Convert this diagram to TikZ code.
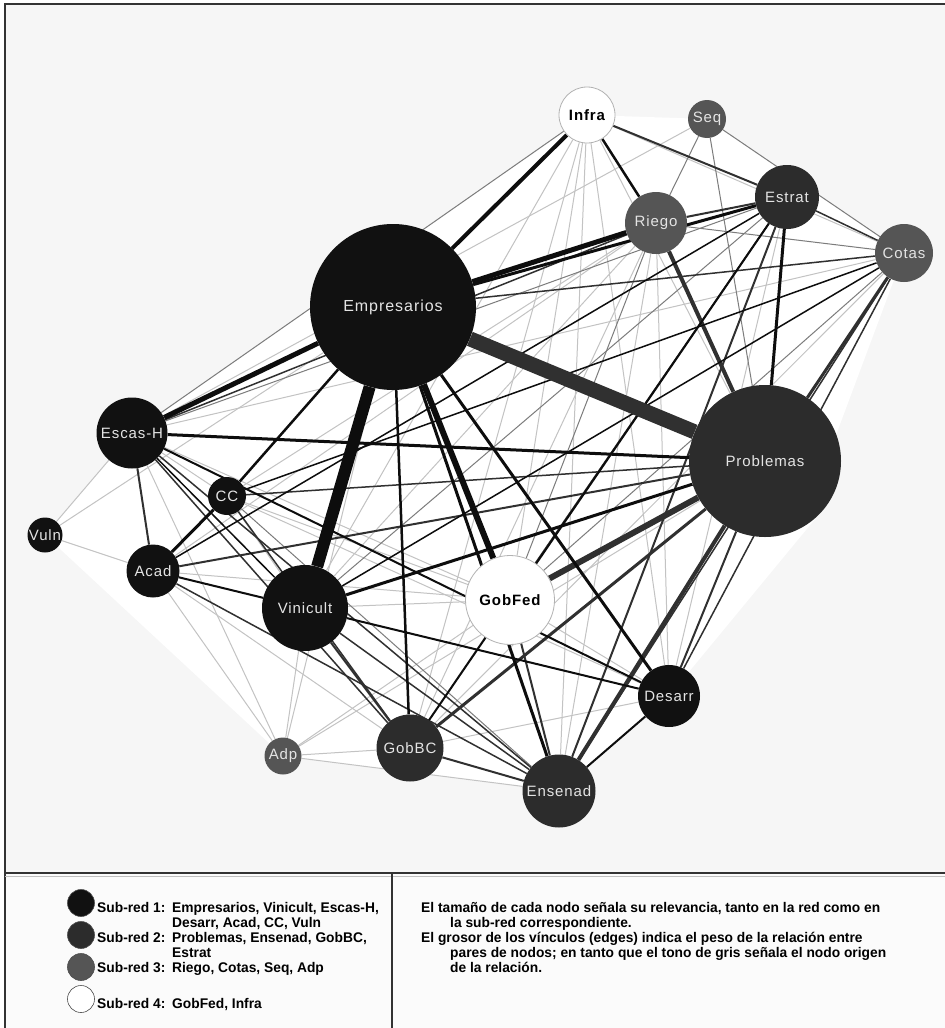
\documentclass[tikz,border=0pt]{standalone}
\usepackage{fontspec}
\setmainfont{Liberation Sans}
\newfontfamily\labfont[LetterSpace=6]{Liberation Sans}
\newfontfamily\legfont[FakeStretch=0.985]{Liberation Sans}
\definecolor{g1}{HTML}{111111}
\definecolor{g2}{HTML}{2C2C2C}
\definecolor{g3}{HTML}{555555}
\definecolor{labw}{HTML}{E4E4E4}
\definecolor{ek1}{HTML}{0D0D0D}
\definecolor{ek2}{HTML}{303030}
\definecolor{ek3}{HTML}{7C7C7C}
\definecolor{ek4}{HTML}{C3C3C3}
\definecolor{bgnet}{HTML}{F6F6F6}
\definecolor{bgleg}{HTML}{FBFBFB}
\definecolor{frame}{HTML}{333333}
\pgfdeclarelayer{bgl}
\pgfdeclarelayer{edl}
\pgfsetlayers{bgl,edl,main}
\tikzset{
  nd/.style={circle,inner sep=0pt,text=labw,font=\labfont\fontsize{15}{15}\selectfont},
  sA/.style={nd,fill=g1},
  sB/.style={nd,fill=g2},
  sC/.style={nd,fill=g3},
  sD/.style={nd,fill=white,draw=black!30,line width=0.8pt,text=black,font=\labfont\bfseries\fontsize{15}{15}\selectfont},
  legtxt/.style={anchor=base west,inner sep=0pt,font=\legfont\bfseries\fontsize{14}{14}\selectfont},
  legdot/.style={circle,inner sep=0pt,minimum size=27pt,draw=black!70,line width=0.6pt}
}
\begin{document}
\begin{tikzpicture}[x=1pt,y=-1pt]
\useasboundingbox (0,0) rectangle (945,1028);
% nodes
\node[sA,minimum size=166pt,font=\labfont\fontsize{16}{16}\selectfont] (E) at (393,307) {Empresarios};
\node[sB,minimum size=152pt] (P) at (765,461) {Problemas};
\node[sD,minimum size=56pt] (Infra) at (587,115) {Infra};
\node[sC,minimum size=38pt] (Seq) at (707,119) {Seq};
\node[sC,minimum size=62pt] (Riego) at (656,223) {Riego};
\node[sB,minimum size=64pt] (Estrat) at (787,197) {Estrat};
\node[sC,minimum size=58pt] (Cotas) at (904,253) {Cotas};
\node[sA,minimum size=71pt] (EscasH) at (132,433) {Escas-H};
\node[sA,minimum size=38pt] (CC) at (227,496) {CC};
\node[sA,minimum size=35pt] (Vuln) at (45,535) {Vuln};
\node[sA,minimum size=53pt] (Acad) at (153,571) {Acad};
\node[sA,minimum size=86pt] (Vini) at (305,608) {Vinicult};
\node[sD,minimum size=89pt] (GobFed) at (510,600) {GobFed};
\node[sA,minimum size=62pt] (Desarr) at (669,696) {Desarr};
\node[sB,minimum size=67pt] (GobBC) at (410,748) {GobBC};
\node[sC,minimum size=37pt] (Adp) at (283,756) {Adp};
\node[sB,minimum size=73pt] (Ensenad) at (559,791) {Ensenad};
% backgrounds
\begin{pgfonlayer}{bgl}
\fill[bgnet] (5,4) rectangle (945,873);
\fill[bgleg] (5,873) rectangle (945,1028);
\fill[white] (Vuln.center) -- (EscasH.center) -- (Infra.center) -- (Seq.center) -- (Cotas.center)
  -- (836,435) -- (820,513) -- (Desarr.center) -- (Ensenad.center) -- (Adp.center) -- cycle;
\end{pgfonlayer}
% edges
\begin{pgfonlayer}{edl}
\foreach \a/\b/\w in {EscasH/Seq/1, EscasH/Cotas/1, EscasH/Vuln/1, EscasH/GobFed/1, EscasH/Adp/1, EscasH/CC/1,
  Vuln/Acad/1, Vuln/E/1, Acad/GobFed/1, Acad/Desarr/1, Acad/GobBC/1, Acad/Adp/1, Acad/Riego/1,
  CC/Vini/1, CC/GobFed/1, CC/Desarr/1, CC/Riego/1, Vini/Adp/1, Vini/Riego/1, Vini/GobFed/1, Vini/Infra/1,
  GobFed/GobBC/1, GobFed/Desarr/1, GobFed/Infra/1, GobFed/Adp/1, P/Infra/1, P/Adp/1,
  Desarr/Riego/1, Desarr/Estrat/1, Desarr/GobBC/1, Desarr/Infra/1, Ensenad/Adp/1, Ensenad/Riego/1, Ensenad/Infra/1,
  GobBC/Adp/1, GobBC/Riego/1, GobBC/Cotas/1, GobBC/Infra/1, Cotas/Infra/1, Adp/E/1}
  \draw[ek4,line width=\w pt] (\a) -- (\b);
\foreach \a/\b/\w in {EscasH/Infra/1, EscasH/Estrat/1, CC/Ensenad/1, Vini/Estrat/1, GobFed/Riego/1, GobFed/Cotas/1,
  P/Seq/1, Riego/Cotas/1, Riego/Seq/1, Cotas/Seq/1}
  \draw[ek3,line width=\w pt] (\a) -- (\b);
\foreach \a/\b/\w in {E/Cotas/1.5, EscasH/Riego/1.5, EscasH/Acad/2, EscasH/GobBC/1.5, EscasH/Ensenad/1.5,
  Acad/P/2, Acad/Ensenad/1.5, CC/P/1.5, CC/GobBC/1.5, Vini/GobBC/2, Vini/Ensenad/1.5,
  GobFed/Ensenad/2, GobFed/Estrat/1.5, P/Ensenad/4, P/Desarr/2, P/GobBC/3, P/Riego/4, P/Cotas/3, P/GobFed/6,
  Desarr/Cotas/1.5, Ensenad/GobBC/2, Ensenad/Estrat/2, Ensenad/Cotas/1.5,
  Riego/Estrat/2, Estrat/Cotas/1.5, Estrat/Infra/2}
  \draw[ek2,line width=\w pt] (\a) -- (\b);
\foreach \a/\b/\w in {E/GobFed/6, E/Ensenad/3, E/GobBC/2.5, E/Desarr/3, E/EscasH/5, E/Infra/4, E/Riego/5,
  E/Estrat/3, E/CC/2.5, EscasH/P/3, EscasH/Vini/1.5, EscasH/Desarr/2, Acad/CC/3, Acad/Vini/2, Acad/Estrat/1.5,
  CC/Cotas/1.5, Vini/P/3, Vini/Desarr/2, Vini/Cotas/1.5, P/Estrat/3, Desarr/Ensenad/2, GobBC/Estrat/2, Riego/Infra/2.5}
  \draw[ek1,line width=\w pt] (\a) -- (\b);
\draw[ek2,line width=15pt] (E) -- (P);
\draw[ek1,line width=12pt] (E) -- (Vini);
\end{pgfonlayer}
% frame
\draw[frame,line width=2.5pt] (5,1028) -- (5,4) -- (945,4);
\draw[frame,line width=2.5pt] (5,873) -- (945,873);
\draw[black!25,line width=1pt] (5,876.5) -- (945,876.5);
\draw[frame,line width=1.5pt] (392,873) -- (392,1028);
% legend
\node[legdot,fill=g1] (d1) at (81,903) {};
\node[legdot,fill=g2] (d2) at (81,935) {};
\node[legdot,fill=g3] (d3) at (81,967) {};
\node[legdot,fill=white] (d4) at (81,999) {};
\node[legtxt] (t1) at (97,912) {Sub-red 1:};
\node[legtxt] (t1b) at (172,912) {Empresarios, Vinicult, Escas-H,};
\node[legtxt] (t1c) at (172,927) {Desarr, Acad, CC, Vuln};
\node[legtxt] (t2) at (97,942) {Sub-red 2:};
\node[legtxt] (t2b) at (172,942) {Problemas, Ensenad, GobBC,};
\node[legtxt] (t2c) at (172,957) {Estrat};
\node[legtxt] (t3) at (97,972) {Sub-red 3:};
\node[legtxt] (t3b) at (172,972) {Riego, Cotas, Seq, Adp};
\node[legtxt] (t4) at (97,1008) {Sub-red 4:};
\node[legtxt] (t4b) at (172,1008) {GobFed, Infra};
\node[legtxt] (r1) at (421,912) {El tamaño de cada nodo señala su relevancia, tanto en la red como en};
\node[legtxt] (r2) at (450,927) {la sub-red correspondiente.};
\node[legtxt] (r3) at (421,942) {El grosor de los vínculos (edges) indica el peso de la relación entre};
\node[legtxt] (r4) at (450,957) {pares de nodos; en tanto que el tono de gris señala el nodo origen};
\node[legtxt] (r5) at (450,972) {de la relación.};
\end{tikzpicture}
\end{document}
